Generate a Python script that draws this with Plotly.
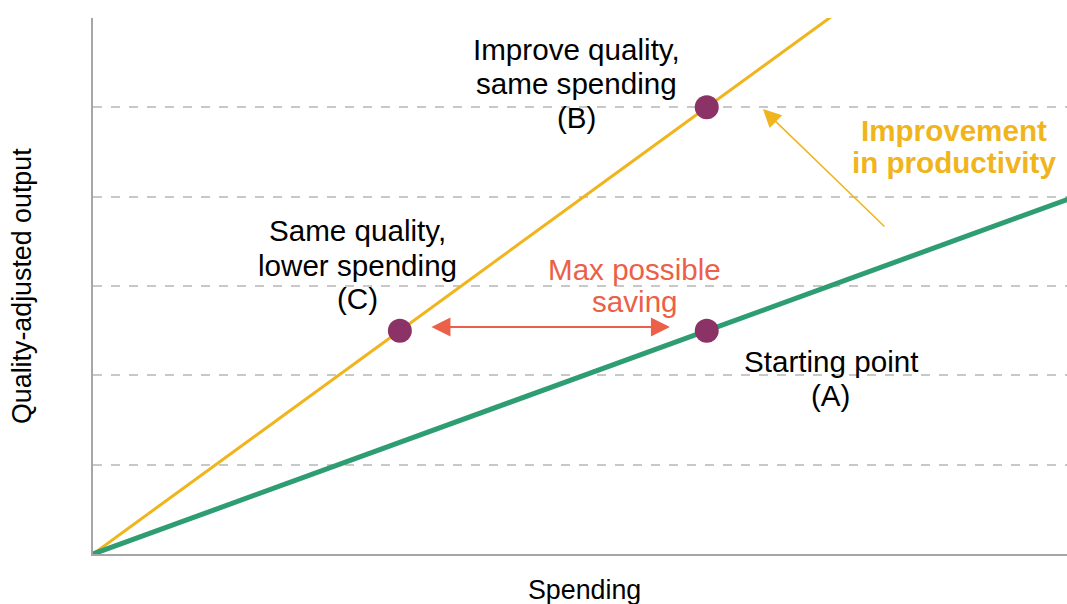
import plotly.graph_objects as go

# Data
spending = [0, 8]
output_start = [0, 4]        # original productivity line
output_improved = [0, 8]     # improved productivity line
point_labels = ["A", "B", "C"]
point_x = [5, 5, 2.5]
point_y = [2.5, 5, 2.5]

YELLOW = "#F0B41C"
GREEN = "#2E9E72"
PURPLE = "#8B3366"
RED = "#EC5F48"
FONT = "Liberation Sans, Arial, sans-serif"

fig = go.Figure()
fig.add_trace(go.Scatter(x=spending, y=output_improved, mode="lines",
                         line=dict(color=YELLOW, width=3), hoverinfo="skip"))
fig.add_trace(go.Scatter(x=spending, y=output_start, mode="lines",
                         line=dict(color=GREEN, width=5), hoverinfo="skip"))
fig.add_trace(go.Scatter(x=point_x, y=point_y, mode="markers", text=point_labels,
                         marker=dict(color=PURPLE, size=24, line=dict(width=0)),
                         cliponaxis=False))

FS = 29.6
black = dict(size=FS, color="#000000", family=FONT)
red = dict(size=FS, color=RED, family=FONT)
yel = dict(size=FS, color=YELLOW, family=FONT)

# (x, y, text, font) – one annotation per text line
labels = [
    (3.943, 5.642, "Improve quality,", black),
    (3.943, 5.262, "same spending", black),
    (3.943, 4.881, "(B)", black),
    (2.151, 3.616, "Same quality,", black),
    (2.151, 3.235, "lower spending", black),
    (2.151, 2.855, "(C)", black),
    (4.415, 3.190, "Max possible", red),
    (4.415, 2.832, "saving", red),
    (6.012, 2.160, "Starting point", black),
    (6.012, 1.769, "(A)", black),
    (7.018, 4.746, "<b>Improvement</b>", yel),
    (7.018, 4.388, "<b>in productivity</b>", yel),
]
for x, y, t, f in labels:
    fig.add_annotation(x=x, y=y, xref="x", yref="y", text=t, font=f, showarrow=False,
                       xanchor="center", yanchor="middle")

# double-headed saving arrow
fig.add_annotation(x=4.70, y=2.54, ax=2.745, ay=2.54, xref="x", yref="y", axref="x", ayref="y",
                   text="", showarrow=True, arrowhead=2, arrowside="end+start",
                   arrowsize=1.9, arrowwidth=2, arrowcolor=RED)
# productivity arrow
fig.add_annotation(x=5.458, y=4.98, ax=6.46, ay=3.65, xref="x", yref="y", axref="x", ayref="y",
                   text="", showarrow=True, arrowhead=2, arrowsize=2.4, arrowwidth=1.5,
                   arrowcolor=YELLOW)

# axis titles
fig.add_annotation(xref="paper", yref="paper", x=0.5, y=0, yshift=-36, xshift=4, text="Spending",
                   xanchor="center", yanchor="middle",
                   showarrow=False, font=dict(size=26.8, color="#000", family=FONT))
fig.add_annotation(xref="paper", yref="paper", x=0, y=0.5, xshift=-71, text="Quality-adjusted output",
                   xanchor="center", yanchor="middle",
                   textangle=-90, showarrow=False, font=dict(size=26.8, color="#000", family=FONT))

# visible part of the x axis (the original chart is cropped slightly at the right)
fig.update_xaxes(range=[0, 7.935], showgrid=False, zeroline=False, showticklabels=False,
                 ticks="", showline=True, linecolor="#A6A6A6", linewidth=2)
fig.update_yaxes(range=[0, 6], dtick=1, showgrid=True, gridcolor="#C8C8C8", griddash="dash",
                 gridwidth=1.5, zeroline=False, showticklabels=False, ticks="",
                 showline=True, linecolor="#A6A6A6", linewidth=2)

fig.update_layout(width=1067, height=604, showlegend=False,
                  margin=dict(l=93, r=0, t=18, b=50),
                  plot_bgcolor="white", paper_bgcolor="white",
                  font=dict(family=FONT))

fig.write_html("out.html",
               config={"displayModeBar": False},
               post_script="document.body.style.margin='0';"
                           "document.documentElement.style.overflow='hidden';")
